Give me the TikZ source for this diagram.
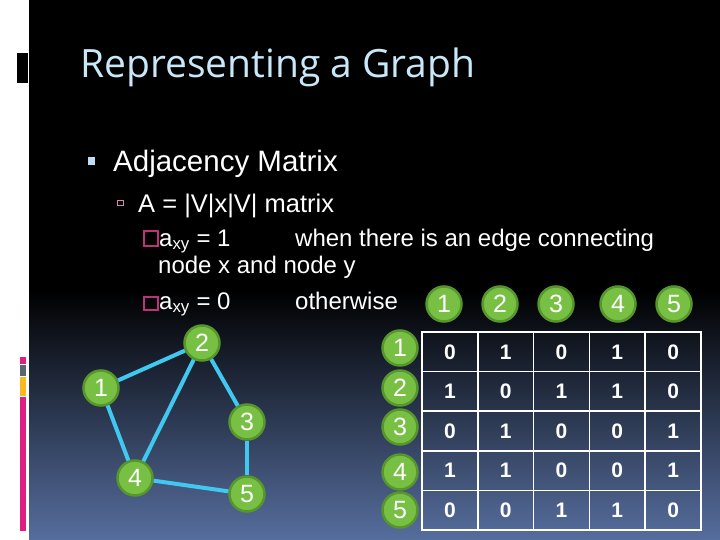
\documentclass[tikz,border=0pt]{standalone}
\usepackage{fontspec}
\setmainfont{Liberation Sans}
\newfontfamily\titlefont{Open Sans}
\usetikzlibrary{positioning}
\definecolor{titleblue}{RGB}{200,232,248}
\definecolor{edgecyan}{RGB}{64,200,240}
\definecolor{nodegreen}{RGB}{120,192,68}
\definecolor{nodeborder}{RGB}{86,150,44}
\definecolor{slideblue}{RGB}{86,110,158}
\definecolor{boxpink}{RGB}{190,50,120}
\definecolor{barmagenta}{RGB}{222,30,128}
\definecolor{bargray}{RGB}{90,100,115}
\definecolor{baryellow}{RGB}{250,185,30}
\definecolor{bulletblue}{RGB}{190,220,245}

\tikzset{
  vert/.style={circle, fill=nodegreen, draw=nodeborder, line width=2.5pt,
    minimum size=35pt, inner sep=0pt, text=white, font=\fontsize{25}{25}\selectfont},
  link/.style={edgecyan, line width=4pt},
  txt/.style={anchor=base west, inner sep=0pt, text=white},
  cell/.style={text=white, inner sep=0pt, font=\fontsize{21}{21}\selectfont\bfseries}
}

\begin{document}
\begin{tikzpicture}[x=1pt,y=-1pt]
  \useasboundingbox (0,0) rectangle (720,540);
  % slide background
  \fill[white] (0,0) rectangle (720,540);
  \fill[black] (29,0) rectangle (720,540);
  \shade[top color=black, bottom color=slideblue] (29,290) rectangle (720,540);
  \fill[black] (17,53) rectangle (28,83);
  \fill[barmagenta] (20,357) rectangle (26,364);
  \fill[bargray] (20,365) rectangle (26,376);
  \fill[baryellow] (20,377) rectangle (26,396);
  \fill[barmagenta] (20,397) rectangle (26,531);

  % title and text
  \node[txt, text=titleblue, font=\titlefont\fontsize{39}{39}\selectfont] (title) at (80,78) {Representing a Graph};
  \fill[bulletblue] (88,157) rectangle (95,165);
  \node[txt, font=\fontsize{29.5}{29.5}\selectfont] (adj) at (113,172) {Adjacency Matrix};
  \draw[boxpink!60!white, line width=1pt] (117,201) rectangle (123,206);
  \node[txt, font=\fontsize{25.5}{25.5}\selectfont] (amat) at (138,212) {A = |V|x|V| matrix};
  \draw[boxpink, line width=1.5pt] (144,231) rectangle (158,246);
  \node[txt, font=\fontsize{24}{24}\selectfont] (one) at (159,246) {a\textsubscript{xy} = 1};
  \node[txt, font=\fontsize{24}{24}\selectfont] (when) at (295,246) {when there is an edge connecting};
  \node[txt, font=\fontsize{24}{24}\selectfont] (nodexy) at (158,273) {node x and node y};
  \draw[boxpink, line width=1.5pt] (144,297) rectangle (158,310);
  \node[txt, font=\fontsize{24}{24}\selectfont] (zero) at (159,309) {a\textsubscript{xy} = 0};
  \node[txt, font=\fontsize{24}{24}\selectfont] (other) at (295,309) {otherwise};

  % the graph
  \node[vert] (v1) at (101,388) {1};
  \node[vert] (v2) at (202,343) {2};
  \node[vert] (v3) at (247,422) {3};
  \node[vert] (v4) at (135,478) {4};
  \node[vert] (v5) at (247,494) {5};
  \draw[link] (v1) -- (v2);
  \draw[link] (v1) -- (v4);
  \draw[link] (v2) -- (v4);
  \draw[link] (v2) -- (v3);
  \draw[link] (v3) -- (v5);
  \draw[link] (v4) -- (v5);

  % matrix labels
  \foreach \n/\x in {1/444,2/500,3/556,4/618,5/674}
    \node[vert] (c\n) at (\x,304) {\n};
  \foreach \n/\y in {1/348,2/388,3/427,4/472,5/510}
    \node[vert] (r\n) at (400,\y) {\n};

  % the matrix
  \draw[white, line width=1.5pt] (422,332) rectangle (701,530);
  \foreach \j in {1,...,4}
    \draw[white, line width=1.5pt] (422+55.8*\j,332) -- (422+55.8*\j,530);
  \foreach \i in {1,...,4}
    \draw[white, line width=1.5pt] (422,332+39.6*\i) -- (701,332+39.6*\i);
  \foreach \row [count=\i] in {{0,1,0,1,0},{1,0,1,1,0},{0,1,0,0,1},{1,1,0,0,1},{0,0,1,1,0}}
    \foreach \v [count=\j] in \row
      \node[cell] (m\i\j) at (422+55.8*\j-27.9,332+39.6*\i-19.8) {\v};
\end{tikzpicture}
\end{document}
